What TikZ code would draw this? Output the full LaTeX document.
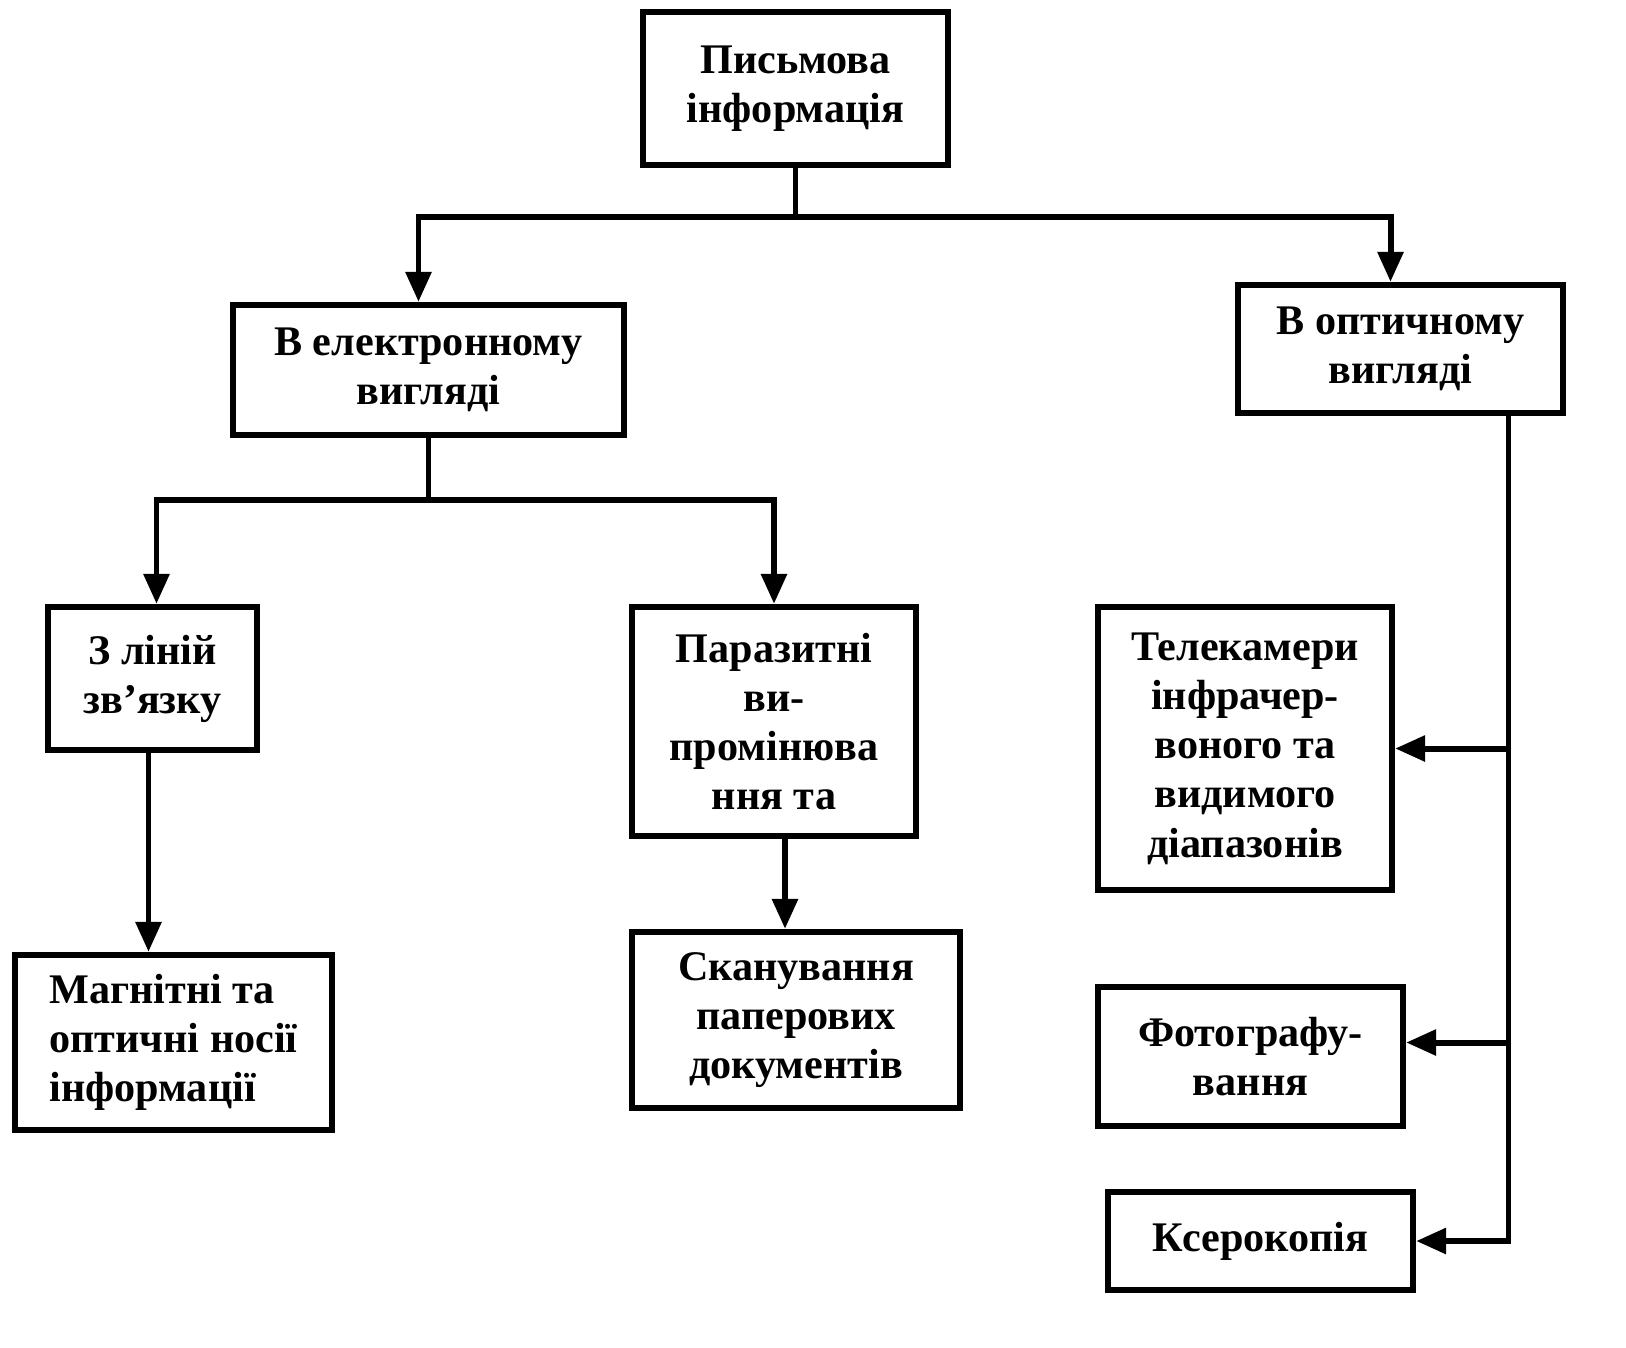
\documentclass[tikz,border=0pt]{standalone}
\usepackage{fontspec}
\setmainfont{Liberation Serif}
\usetikzlibrary{arrows.meta,positioning}

\begin{document}
\begin{tikzpicture}[
  x=0.02cm, y=-0.02cm,
  blockbox/.style={draw, line width=3.6pt, align=center, inner sep=2pt,
    font=\bfseries\fontsize{24}{28}\selectfont},
  ]
  \tikzset{%
    link line/.style={line width=3.4pt},
    link arrow/.style={link line, -{Triangle[length=0.6cm,width=0.5cm]}},
  }
  \useasboundingbox (0,0) rectangle (1626,1347);
  %Nodes
  \node[blockbox, minimum width=6.1cm, minimum height=3.06cm](info) at (795.5,88.5)
    {Письмова\\інформація};
  \node[blockbox, minimum width=7.82cm, minimum height=2.6cm](elec) at (428.5,370)
    {В електронному\\вигляді};
  \node[blockbox, minimum width=6.5cm, minimum height=2.56cm](opt) at (1400.5,349)
    {В оптичному\\вигляді};
  \node[blockbox, minimum width=4.18cm, minimum height=2.86cm](lines) at (152.5,678.5)
    {З ліній\\зв’язку};
  \node[blockbox, minimum width=5.68cm, minimum height=4.58cm](parasit) at (774,721.5)
    {Паразитні\\ви-\\промінюва\\ння та};
  \node[blockbox, align=left, minimum width=6.34cm, minimum height=3.5cm](media) at (173.5,1042.5)
    {Магнітні та\\оптичні носії\\інформації};
  \node[blockbox, minimum width=6.56cm, minimum height=3.52cm](scan) at (796,1020)
    {Сканування\\паперових\\документів};
  \node[blockbox, minimum width=5.88cm, minimum height=5.66cm](tvcam) at (1245,748.5)
    {Телекамери\\інфрачер-\\воного та\\видимого\\діапазонів};
  \node[blockbox, minimum width=6.1cm, minimum height=2.78cm](photo) at (1250.5,1056.5)
    {Фотографу-\\вання};
  \node[blockbox, minimum width=6.1cm, minimum height=1.96cm](xerox) at (1260.5,1241)
    {Ксерокопія};
  %Junctions
  \coordinate (j1) at (795.5,217);
  \coordinate (j2) at (428.5,500);
  \coordinate (bus) at ([xshift=2.16cm]opt.south);
  %Lines
  \draw[link line] (info.south) -- (j1);
  \draw[link arrow] (j1) -| ([xshift=-0.2cm]elec.north);
  \draw[link arrow] (j1) -| ([xshift=-0.2cm]opt.north);
  \draw[link line] (elec.south) -- (j2);
  \draw[link arrow] (j2) -| ([xshift=0.08cm]lines.north);
  \draw[link arrow] (j2) -| (parasit.north);
  \draw[link arrow] ([xshift=-0.08cm]lines.south) -- ([xshift=-0.08cm]lines.south |- media.north);
  \draw[link arrow] ([xshift=0.22cm]parasit.south) -- ([xshift=0.22cm]parasit.south |- scan.north);
  \draw[link arrow] (bus) |- (xerox.east);
  \draw[link arrow] (bus |- tvcam.east) -- (tvcam.east);
  \draw[link arrow] ([yshift=0.28cm]bus |- photo.east) -- ([yshift=0.28cm]photo.east);
\end{tikzpicture}
\end{document}
